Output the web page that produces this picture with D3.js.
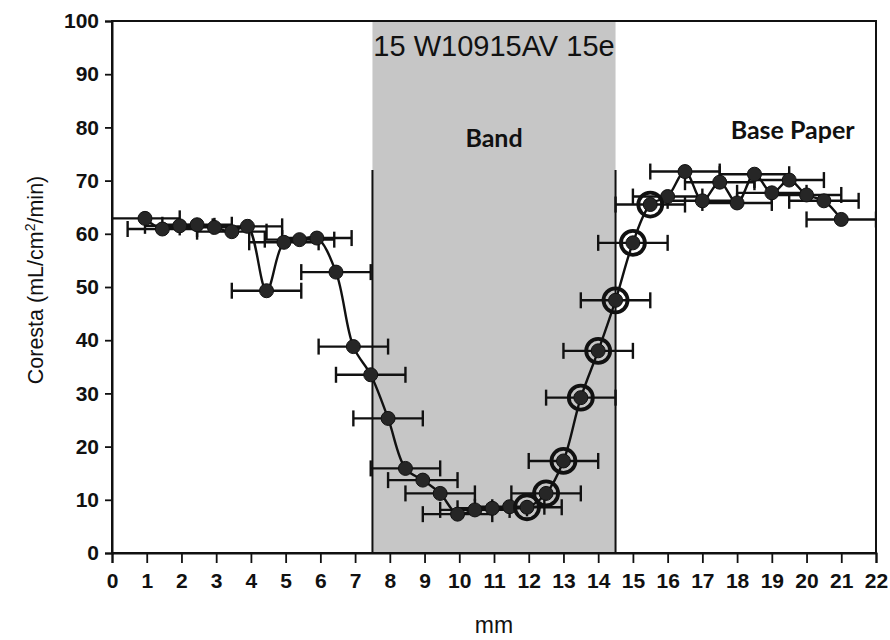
<!DOCTYPE html>
<html>
<head>
<meta charset="utf-8">
<script src="https://cdn.jsdelivr.net/npm/d3@7"></script>
<style>
  body { margin: 0; background: #fff; }
  svg text { font-family: "Liberation Sans", Arial, sans-serif; }
</style>
</head>
<body>
<svg id="chart" width="890" height="640"></svg>
<script>
// measured positions (mm) and Coresta permeability
const xs = [0.95, 1.45, 1.95, 2.45, 2.95, 3.45, 3.9, 4.45, 4.95, 5.4, 5.9, 6.45, 6.95, 7.45,
  7.95, 8.45, 8.95, 9.45, 9.95, 10.45, 10.95, 11.45, 11.95, 12.5, 13, 13.5, 14, 14.5, 15, 15.5,
  16, 16.5, 17, 17.5, 18, 18.5, 19, 19.5, 20, 20.5, 21];
const ys = [62.9, 60.9, 61.5, 61.7, 61.2, 60.4, 61.4, 49.3, 58.4, 58.9, 59.2, 52.8, 38.8, 33.5,
  25.3, 15.9, 13.7, 11.2, 7.3, 8.1, 8.4, 8.7, 8.6, 11.2, 17.3, 29.2, 38, 47.5, 58.3, 65.5,
  67, 71.7, 66.2, 69.7, 65.8, 71.2, 67.7, 70.1, 67.3, 66.2, 62.7];
const xErr = xs.map(() => 1);

// highlighted (ringed) points
const ringX = [11.95, 12.5, 13, 13.5, 14, 14.5, 15, 15.5];
const ringY = [8.6, 11.2, 17.3, 29.2, 38, 47.5, 58.3, 65.5];

// band region and its edge markers
const band = [7.5, 14.5];
const bandEdgeTop = 72;

const xTicks = d3.range(0, 23, 1);
const yTicks = d3.range(0, 101, 10);

const svg = d3.select("#chart");
const mLeft = 112, mRight = 876, mTop = 21, mBottom = 553;

const x = d3.scaleLinear().domain([0, 22]).range([mLeft, mRight]);
const y = d3.scaleLinear().domain([0, 100]).range([mBottom, mTop]);

svg.append("defs").append("clipPath").attr("id", "plotclip")
  .append("rect").attr("x", mLeft).attr("y", mTop - 2).attr("width", mRight - mLeft).attr("height", mBottom - mTop + 4);

// shaded band
svg.append("rect")
  .attr("x", x(band[0])).attr("y", y(100))
  .attr("width", x(band[1]) - x(band[0])).attr("height", y(0) - y(100))
  .attr("fill", "#c6c6c6");

band.forEach((b) => {
  svg.append("line")
    .attr("x1", x(b)).attr("x2", x(b))
    .attr("y1", y(bandEdgeTop)).attr("y2", y(0))
    .attr("stroke", "#111").attr("stroke-width", 2);
});

// frame
svg.append("rect")
  .attr("x", mLeft).attr("y", mTop).attr("width", mRight - mLeft).attr("height", mBottom - mTop)
  .attr("fill", "none").attr("stroke", "#111").attr("stroke-width", 2);

const plot = svg.append("g").attr("clip-path", "url(#plotclip)");

// horizontal error bars
const cap = 8;
xs.forEach((v, i) => {
  const g = plot.append("g").attr("stroke", "#111").attr("stroke-width", 2.4);
  const x0 = x(v - xErr[i]), x1 = x(v + xErr[i]), yy = y(ys[i]);
  g.append("line").attr("x1", x0).attr("x2", x1).attr("y1", yy).attr("y2", yy);
  g.append("line").attr("x1", x0).attr("x2", x0).attr("y1", yy - cap).attr("y2", yy + cap);
  g.append("line").attr("x1", x1).attr("x2", x1).attr("y1", yy - cap).attr("y2", yy + cap);
});

// connecting line
const line = d3.line().x((d) => x(d[0])).y((d) => y(d[1])).curve(d3.curveCatmullRom.alpha(0.5));
plot.append("path")
  .datum(xs.map((v, i) => [v, ys[i]]))
  .attr("fill", "none").attr("stroke", "#111").attr("stroke-width", 2.4)
  .attr("d", line);

// markers
plot.selectAll("circle.pt")
  .data(xs)
  .join("circle")
  .attr("class", "pt")
  .attr("cx", (d) => x(d))
  .attr("cy", (d, i) => y(ys[i]))
  .attr("r", 7)
  .attr("fill", "#262626")
  .attr("stroke", "#111")
  .attr("stroke-width", 1);

plot.selectAll("circle.ring")
  .data(ringX)
  .join("circle")
  .attr("class", "ring")
  .attr("cx", (d) => x(d))
  .attr("cy", (d, i) => y(ringY[i]))
  .attr("r", 12)
  .attr("fill", "none")
  .attr("stroke", "#111")
  .attr("stroke-width", 3.8);

// axes
const yAxis = svg.append("g")
  .attr("transform", `translate(${mLeft},0)`)
  .call(d3.axisLeft(y).tickValues(yTicks).tickSize(7).tickPadding(6).tickFormat(d3.format("d")));
const xAxis = svg.append("g")
  .attr("transform", `translate(0,${mBottom})`)
  .call(d3.axisBottom(x).tickValues(xTicks).tickSize(10).tickPadding(10).tickFormat(d3.format("d")));

[yAxis, xAxis].forEach((a) => {
  a.attr("font-size", null).attr("font-family", null);
  a.select(".domain").attr("stroke", "#111").attr("stroke-width", 2);
  a.selectAll(".tick line").attr("stroke", "#111").attr("stroke-width", 1.8);
  a.selectAll(".tick text")
    .attr("fill", "#111")
    .attr("font-weight", "bold")
    .attr("font-size", 21);
});

// axis titles
svg.append("text")
  .attr("transform", `translate(43,280) rotate(-90)`)
  .attr("text-anchor", "middle")
  .attr("font-size", 21.5)
  .attr("fill", "#111")
  .html('Coresta (mL/cm<tspan baseline-shift="super" font-size="14">2</tspan>/min)');

svg.append("text")
  .attr("x", x(11)).attr("y", 633)
  .attr("text-anchor", "middle")
  .attr("font-size", 23)
  .attr("fill", "#111")
  .text("mm");

// annotations
svg.append("text")
  .attr("x", x(11)).attr("y", 56)
  .attr("text-anchor", "middle")
  .attr("font-size", 29)
  .attr("fill", "#111")
  .text("15 W10915AV 15e");

svg.append("text")
  .attr("x", x(11)).attr("y", 147)
  .attr("text-anchor", "middle")
  .attr("font-size", 25)
  .attr("font-weight", "bold")
  .style("font-family", "Lato, 'Open Sans', sans-serif")
  .attr("fill", "#111")
  .text("Band");

svg.append("text")
  .attr("x", x(19.6)).attr("y", 139)
  .attr("text-anchor", "middle")
  .attr("font-size", 25)
  .attr("font-weight", "bold")
  .style("font-family", "Lato, 'Open Sans', sans-serif")
  .attr("fill", "#111")
  .text("Base Paper");
</script>
</body>
</html>
